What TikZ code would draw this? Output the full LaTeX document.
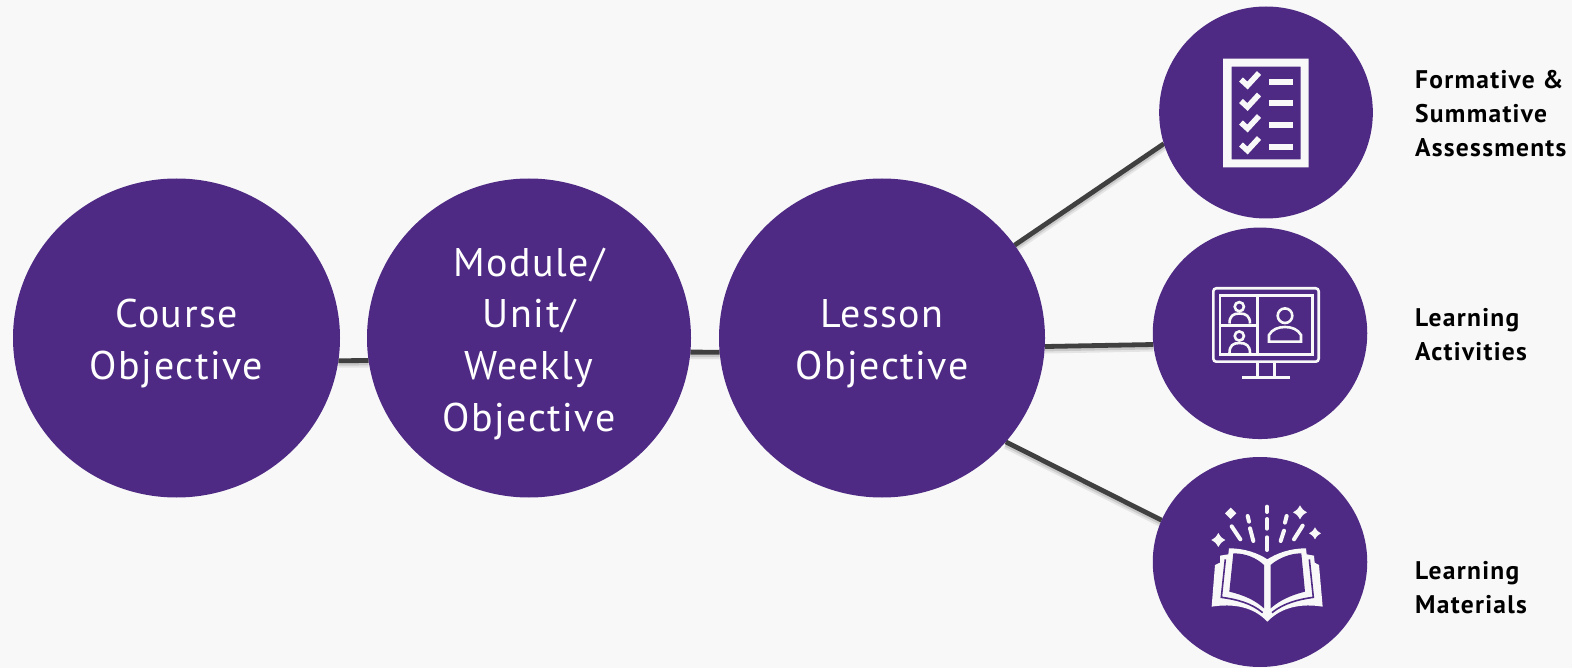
\documentclass[tikz,border=0pt]{standalone}
\usepackage{fontspec}
\setmainfont{PT Sans}
\usetikzlibrary{backgrounds,shapes.geometric}
\definecolor{nu}{HTML}{4E2A84}
\definecolor{pagebg}{HTML}{F8F8F8}
\definecolor{linegray}{HTML}{404040}
\newcommand\firstlift{\rule{0pt}{40pt}}
\tikzset{
  x=1pt,y=-1pt,
  bigcircle/.style={ellipse,fill=nu,text=white,inner sep=0pt,outer sep=0pt,minimum width=327pt,minimum height=319pt,align=center,font=\fontsize{40}{51.6}\selectfont\addfontfeatures{LetterSpace=3.8}},
  iconcircle/.style={ellipse,fill=nu,inner sep=0pt,outer sep=0pt},
  sidelabel/.style={anchor=west,align=left,inner sep=0pt,font=\fontsize{25.5}{33.9}\selectfont\bfseries\addfontfeatures{LetterSpace=5},text=black},
  conn/.style={draw=linegray,line width=4.8pt,
    preaction={draw=black,opacity=.08,line width=8pt,transform canvas={yshift=-3pt}},
    preaction={draw=black,opacity=.12,line width=4.8pt,transform canvas={yshift=-2.5pt}}},
  iconline/.style={draw=pagebg,fill=none,line width=2.6pt},
  bookpen/.style={draw=pagebg,line width=4pt,line cap=round},
  sparkle/.pic={\fill[pagebg] (-1,0) .. controls (-.38,-.38) .. (0,-1) .. controls (.38,-.38) .. (1,0) .. controls (.38,.38) .. (0,1) .. controls (-.38,.38) .. (-1,0) -- cycle;}
}
\begin{document}
\begin{tikzpicture}
\useasboundingbox (0,0) rectangle (1572,668);

\node[bigcircle] (course) at (176.5,338) {\firstlift Course\\Objective};
\node[bigcircle,minimum width=324pt] (module) at (529,338) {\firstlift Module/\\Unit/\\Weekly\\Objective};
\node[bigcircle,minimum width=326pt] (lesson) at (882,338) {\firstlift Lesson\\Objective};
\node[iconcircle,minimum width=213.7pt,minimum height=212pt] (assess) at (1266,112.5) {};
\node[iconcircle,minimum width=214.5pt,minimum height=211.5pt] (activity) at (1260,333.3) {};
\node[iconcircle,minimum width=214.5pt,minimum height=210pt] (material) at (1260,562) {};

\node[sidelabel] (lab1) at (1415,113.3) {Formative \&\\Summative\\Assessments};
\node[sidelabel] (lab2) at (1415,334.5) {Learning\\Activities};
\node[sidelabel] (lab3) at (1415,588) {Learning\\Materials};

\begin{scope}[on background layer]
\fill[pagebg] (0,0) rectangle (1572,668);
\path[conn] (course.-8.5) -- (module.188.5);
\path[conn] (module.-5.7) -- (lesson.185.6);
\path[conn] (lesson.35.4) -- (assess.197.5);
\path[conn] (lesson.-3.5) -- (activity.186);
\path[conn] (lesson.-40) -- (material.157.6);
\end{scope}

% checklist icon
\fill[pagebg,even odd rule] (1223,58.7) rectangle (1308.7,167.3) (1231.7,66.7) rectangle (1300.7,159.3);
\foreach \yy in {82,103.5,125,147}{
  \fill[pagebg] (1269,\yy-3) rectangle (1293,\yy+3);
  \draw[pagebg,line width=5.6pt] (1241,\yy-2.5) -- (1247.5,\yy+3.5) -- (1259,\yy-9);
}

% monitor icon
\draw[iconline,rounded corners=3pt] (1213.3,288.3) rectangle (1318.7,361.7);
\draw[iconline] (1220,295.7) rectangle (1312.3,354.3);
\draw[iconline] (1257.7,295.7) -- (1257.7,354.3) (1220,325.7) -- (1257.7,325.7);
\draw[iconline] (1257.7,361.7) -- (1257.7,377.3) (1274.3,361.7) -- (1274.3,377.3) (1242.3,377.3) -- (1290,377.3);
\draw[iconline] (1239.3,306.7) circle[radius=4.6];
\draw[iconline] (1229.5,323.5) .. controls (1229.5,316) and (1233,313.5) .. (1239.5,313.5) .. controls (1246,313.5) and (1250,316) .. (1250,323.5);
\draw[iconline] (1239.3,336) circle[radius=4.6];
\draw[iconline] (1229.5,353) .. controls (1229.5,345.5) and (1233,343) .. (1239.5,343) .. controls (1246,343) and (1250,345.5) .. (1250,353);
\draw[iconline] (1285,315.7) circle[radius=7.3];
\draw[iconline] (1269,341.7) -- (1269,335) .. controls (1272,329.5) and (1278,327) .. (1285,327) .. controls (1292,327) and (1298,329.5) .. (1301,335) -- (1301,341.7) -- cycle;

% book icon
\begin{scope}[shift={(1180,490)},x=.3333pt,y=-.3333pt]
\fill[pagebg] (262,395) .. controls (220,350) and (160,340) .. (95,350) -- (105,225) -- (120,218) -- (120,197) -- (145,193) -- (147,175)
  .. controls (195,175) and (235,190) .. (262,208) .. controls (290,190) and (330,175) .. (378,175) -- (380,193) -- (402,197) -- (404,218) -- (417,225) -- (428,350)
  .. controls (365,340) and (305,350) .. (262,395) -- cycle;
\fill[nu] (160,190) .. controls (200,190) and (230,205) .. (252,225) -- (252,355) .. controls (225,330) and (190,315) .. (148,305) -- cycle;
\fill[nu] (272,225) .. controls (295,205) and (330,190) .. (364,190) -- (375,305) .. controls (335,315) and (300,330) .. (272,355) -- cycle;
\draw[nu,line width=1.6pt] (136,208) -- (124,322) .. controls (170,328) and (215,340) .. (248,368);
\draw[nu,line width=1.6pt] (388,208) -- (400,322) .. controls (355,328) and (310,340) .. (276,368);
\draw[bookpen] (261,50) -- (261,66) (261,87) -- (261,116) (261,142) -- (261,180);
\draw[bookpen] (203,78) -- (207,95) (210,115) -- (220,153) (155,109) -- (181,148);
\draw[bookpen] (320,78) -- (315,98) (312,122) -- (302,153) (368,107) -- (342,148);
\pic[scale=17] at (152,70) {sparkle};
\pic[scale=21] at (115,150) {sparkle};
\pic[scale=21] at (360,67) {sparkle};
\pic[scale=18] at (405,130) {sparkle};
\end{scope}
\end{tikzpicture}
\end{document}
